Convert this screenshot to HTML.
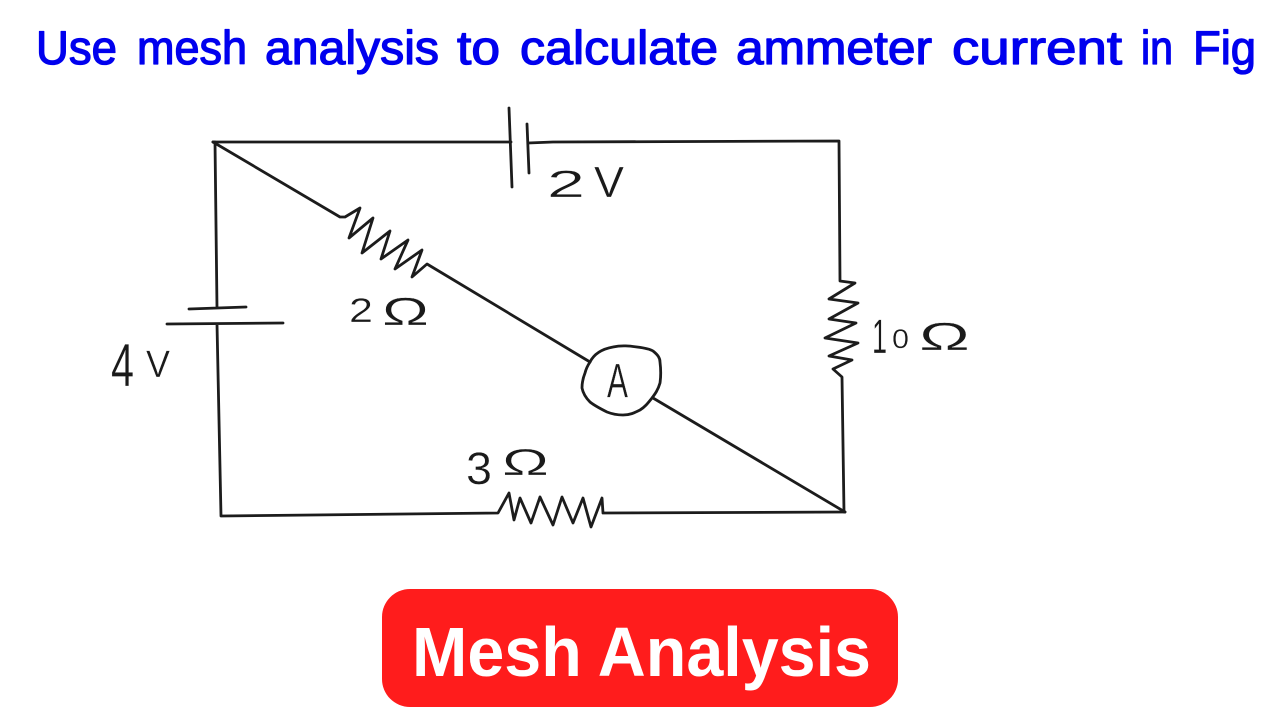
<!DOCTYPE html>
<html><head><meta charset="utf-8"><style>
html,body{margin:0;padding:0;background:#fff;width:1280px;height:720px;overflow:hidden}
svg{display:block}
.w{fill:none;stroke:#1c1c1c;stroke-width:2.8;stroke-linejoin:round;stroke-linecap:round}
.h{font-family:"Liberation Sans",sans-serif;fill:#1a1a1a;stroke:#fff;stroke-width:.35}
.t{font-family:"Liberation Sans",sans-serif;font-size:47px;fill:#0000ee;stroke:#0000ee;stroke-width:1.3;stroke-linejoin:round}
</style></head><body>
<svg width="1280" height="720" viewBox="0 0 1280 720" xmlns="http://www.w3.org/2000/svg">
<rect width="1280" height="720" fill="#fff"/>
<g class="t">
<text x="36" y="64" textLength="81" lengthAdjust="spacingAndGlyphs">Use</text>
<text x="137" y="64" textLength="110" lengthAdjust="spacingAndGlyphs">mesh</text>
<text x="265" y="64" textLength="174" lengthAdjust="spacingAndGlyphs">analysis</text>
<text x="457" y="64" textLength="43" lengthAdjust="spacingAndGlyphs">to</text>
<text x="520" y="64" textLength="198" lengthAdjust="spacingAndGlyphs">calculate</text>
<text x="736" y="64" textLength="196" lengthAdjust="spacingAndGlyphs">ammeter</text>
<text x="952" y="64" textLength="170" lengthAdjust="spacingAndGlyphs">current</text>
<text x="1141" y="64" textLength="32" lengthAdjust="spacingAndGlyphs">in</text>
<text x="1193" y="64" textLength="63" lengthAdjust="spacingAndGlyphs">Fig</text>
</g>
<g class="w">
<path d="M213 142H511M528 143L553 142L839 141L840 281L855 283L829 299L858 303L829 319L856 323L825 338L858 343L829 356L852 360L833 369L842 377L844 512"/>
<path d="M509 108L512 187M527 124L529 173"/>
<path d="M213 142L215 142L217 308M189 309L246 307M167 324L283 323M217 324L221 516L498 513L509 493L514 520L520 498L531 523L540 497L553 525L562 497L573 523L583 498L591 527L602 498L603 513L845 512"/>
<path d="M213 142L340 217L345 217L360 208L349 238L373 218L362 253L390 231L381 259L408 240L395 269L422 250L412 277L427 264L590 362"/>
<path d="M653 398L845 512"/>
<path d="M590 362C594 354 602 349 613 347C622 345 630 346 637 347C645 348 650 349 653 351C658 355 660 358 660 362C661 370 661 376 660 383C658 390 655 394 652 398C648 403 645 407 640 410C634 413 630 415 623 415C617 415 612 414 607 412C601 409 595 406 590 402C586 398 583 393 582 388C582 382 583 378 585 373C586 369 588 365 590 362Z"/>
</g>
<g class="h">
<text x="607" y="397" font-size="48" textLength="21" lengthAdjust="spacingAndGlyphs">A</text>
<text x="547" y="197" font-size="38" textLength="38" lengthAdjust="spacingAndGlyphs">2</text>
<text x="594" y="197" font-size="44" textLength="30" lengthAdjust="spacingAndGlyphs">V</text>
<text x="111" y="386" font-size="60" textLength="23" lengthAdjust="spacingAndGlyphs">4</text>
<text x="146" y="377" font-size="38" textLength="24" lengthAdjust="spacingAndGlyphs">V</text>
<text x="349" y="322" font-size="34" textLength="24" lengthAdjust="spacingAndGlyphs">2</text>
<text x="382" y="325" font-size="39" textLength="47" lengthAdjust="spacingAndGlyphs">Ω</text>
<text x="872" y="353" font-size="48" textLength="15" lengthAdjust="spacingAndGlyphs">1</text>
<text x="892" y="348" font-size="27" textLength="17" lengthAdjust="spacingAndGlyphs">0</text>
<text x="919" y="350" font-size="39" textLength="51" lengthAdjust="spacingAndGlyphs">Ω</text>
<text x="466" y="484" font-size="45" textLength="26" lengthAdjust="spacingAndGlyphs">3</text>
<text x="502" y="475" font-size="37" textLength="47" lengthAdjust="spacingAndGlyphs">Ω</text>
</g>
<rect x="382" y="589" width="516" height="118" rx="28" fill="#ff1c1c"/>
<text x="412" y="676" font-family="Liberation Sans, sans-serif" font-weight="700" font-size="70" fill="#fff" textLength="459" lengthAdjust="spacingAndGlyphs">Mesh Analysis</text>
</svg>
</body></html>
